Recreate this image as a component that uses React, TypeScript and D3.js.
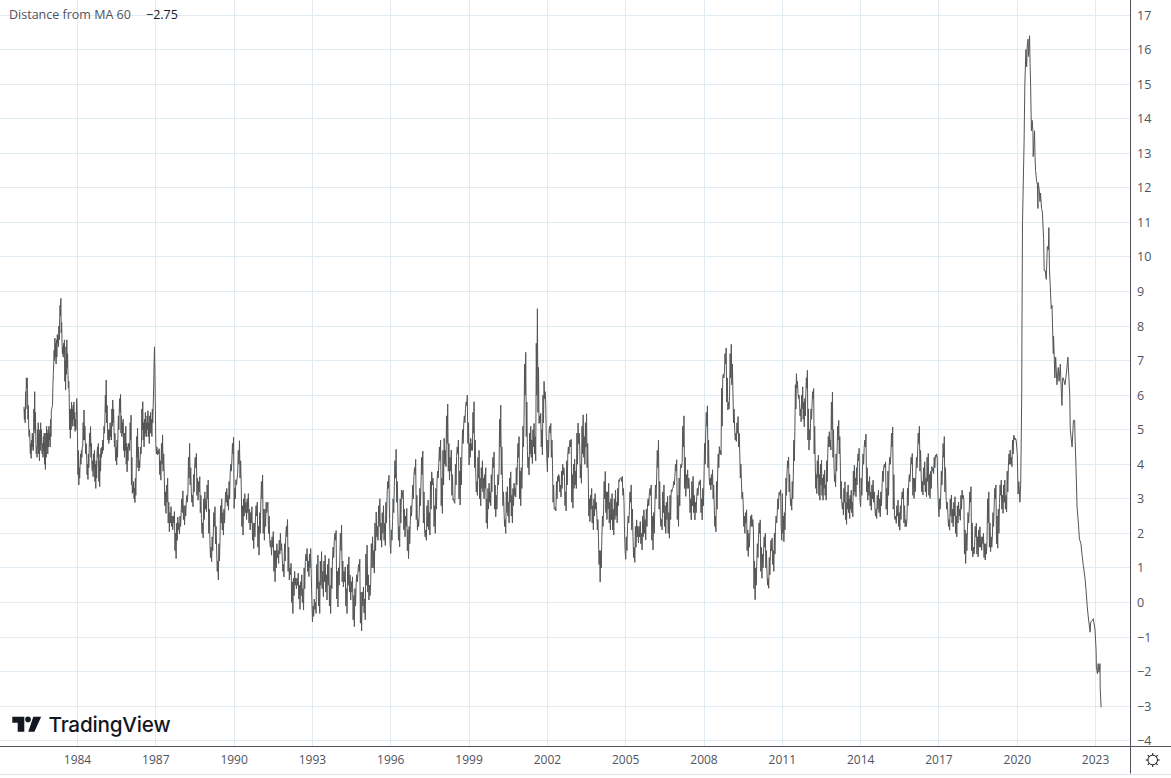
import * as d3 from 'd3'

const WIDTH = 1171
const HEIGHT = 778
const PLOT_RIGHT = 1130.5
const PLOT_BOTTOM = 746.5

const TICK_YEARS = [1984, 1987, 1990, 1993, 1996, 1999, 2002, 2005, 2008, 2011, 2014, 2017, 2020, 2023]
const TICK_VALUES = d3.range(-4, 18)
const LAST_VALUE = '−2.75'

// values, one list per stretch between the year ticks
const values1982 = [5.66,5.3,5.6,5.2,6.1,5.6,6.5,6.2,6.5,6.0,5.3,5.7,5.0,4.8,5.0,4.7,4.3,4.6,4.17,4.7,4.4,4.9,4.5,4.8,4.4,5.6,5.0,6.1,4.9,5.5,4.6,4.3,4.5,4.2,5.0,4.5,5.2,4.3,4.9,4.1,5.0,4.4,5.2,4.6,5.0,4.4,4.3,4.6,4.2,4.8,4.4,4.9,4.0,4.6,3.85,4.9,4.2,5.1,4.5,4.9,4.3,5.0,4.5,5.1,4.7,4.9,4.5,5.3,4.8,5.55,5.6,5.65,5.7,6.3,6.6,6.9,7.3,7.0,7.65,7.1,7.5,6.9,7.6,7.1,7.75,7.5,7.7,7.4,8.0,7.6,8.2,8.6,8.3,8.8,7.8,8.1,7.5,7.2,7.4,7.1,7.5,7.2,7.6,6.4,7.0,6.15,7.4,6.6,7.6,6.8,7.2,6.6,6.2,6.4,6.05,5.0,5.6,4.75,5.6,5.0,5.8,5.2,5.6,5.1,5.7,5.3,5.8,5.1,5.5,4.95,5.3,5.0,5.4,5.9,5.6]
const values1984 = [4.8,3.7,4.4,3.4,3.9,3.6,4.0,4.3,4.0,4.4,4.2,4.5,4.5,5.2,4.7,5.57,4.7,5.1,4.6,4.3,4.6,4.27,3.7,4.0,3.56,4.3,3.9,4.5,4.9,4.5,5.09,4.2,4.6,4.0,3.8,4.1,3.64,4.3,3.9,4.4,3.5,4.0,3.3,4.1,3.6,4.3,4.5,4.2,4.6,3.5,4.1,3.35,4.3,3.8,4.46,4.2,4.5,4.3,4.7,4.4,4.75,5.1,4.9,5.28,6.0,5.5,6.44,5.2,5.7,5.0,4.7,5.0,4.6,5.0,4.7,5.2,4.8,5.1,4.7,5.6,5.1,5.86,5.2,5.6,5.0,4.5,4.9,4.4,4.1,4.5,3.98,4.7,4.2,4.9,5.4,5.0,5.57,5.9,5.5,6.02,4.9,5.4,4.8,5.2,4.9,5.3,4.4,4.9,4.2,4.9,4.4,5.1,4.0,4.6,3.78,4.5,4.1,4.6,4.5,4.6,4.4,5.2,4.7,5.42,3.4,4.2,3.16,3.4,3.2,3.5,3.0,3.3,2.89,3.6,3.1,3.83,4.8,4.2,5.04,3.9,4.5,3.8,4.1,3.9,4.2,4.5,4.3,4.6,5.6,5.0,5.81,4.7,5.2,4.5,5.3,4.8,5.5,4.9,5.2,4.8,5.4,5.0,5.55,4.8,5.2,4.6,5.4,4.9,5.5,4.9,5.3,4.8,5.6,5.2,5.71,6.2,6.9,7.4,6.6,5.6]
const values1987 = [4.6,4.3,4.5,4.27,4.4,4.3,4.45,3.7,4.1,3.54,4.6,4.0,4.85,3.8,4.3,3.65,2.8,3.2,2.58,3.4,2.9,3.6,2.3,2.9,2.05,2.6,2.3,2.77,2.2,2.5,2.1,2.5,2.3,2.63,1.5,2.0,1.27,2.3,1.8,2.47,2.1,2.3,1.98,2.5,2.2,2.6,3.0,2.6,3.23,2.4,2.8,2.24,2.8,2.5,2.9,3.1,2.9,3.2,4.2,3.6,4.6,3.4,3.9,3.2,2.9,3.1,2.77,3.7,3.2,3.97,4.2,3.9,4.31,3.1,3.6,2.96,3.5,3.2,3.64,2.6,3.1,2.43,2.0,2.3,1.87,3.0,2.4,3.2,2.7,3.0,2.63,3.4,3.0,3.54,2.0,2.7,1.8,1.3,1.6,1.18,1.9,1.5,2.04,2.6,2.2,2.77,1.7,2.2,1.52,0.9,1.2,0.65,1.7,1.2,1.9,2.8,2.3,3.0,2.1,2.6,1.95,2.7,2.3,2.88,3.2,2.9,3.3,2.8,3.1,2.67,3.5,3.0,3.74,4.0,3.8,4.12,4.6,4.3,4.78]
const values1990 = [2.72,3.3,3.0,3.55,3.4,3.6,3.74,4.4,4.0,4.68,3.6,4.1,3.35,2.2,2.8,1.95,3.0,2.5,3.15,2.6,2.9,2.4,3.0,2.6,3.15,2.3,2.7,2.1,2.6,2.3,2.77,1.8,2.3,1.56,2.3,1.9,2.5,2.8,2.5,2.9,1.6,2.2,1.37,2.6,2.0,2.85,3.5,3.0,3.69,2.0,2.7,1.8,2.7,2.2,2.9,2.6,2.8,2.9,2.0,2.5,1.8,1.6,1.8,1.37,1.9,1.6,2.05,0.9,1.5,0.6,1.5,1.0,1.7,1.3,1.5,1.13,1.8,1.4,2.0,1.5,1.7,1.32,0.9,1.1,0.74,1.7,1.2,1.9,2.2,1.9,2.4,0.9,1.6,0.65,1.0,0.8,1.13,0.0,0.6,-0.32,0.7,0.2,0.9,0.5,0.7,0.4,0.7,0.5,0.85,0.1,0.5,-0.2,0.6,0.2,0.8,0.0,0.4,-0.22,1.0,0.4,1.18,1.4,1.2,1.56,0.9,1.2,0.75,1.4,1.0,1.56,0.8,0.1]
const values1993 = [-0.56,-0.1,-0.4,0.1,-0.2,0.0,-0.32,1.1,0.4,1.37,-0.1,0.6,-0.32,1.2,0.5,1.47,0.4,0.9,0.17,1.2,0.6,1.37,0.3,0.8,0.07,1.1,0.5,1.27,-0.1,0.5,-0.32,1.0,0.4,1.22,1.6,1.3,1.8,2.0,1.8,2.08,0.1,0.9,-0.13,1.0,0.5,1.22,2.0,1.5,2.24,0.6,1.2,0.45,0.9,0.6,1.03,-0.1,0.4,-0.32,1.1,0.5,1.32,0.3,0.8,0.07,0.6,0.3,0.74,-0.5,0.2,-0.7,0.4,-0.1,0.55,0.8,0.6,0.88,1.1,0.9,1.25,-0.6,0.3,-0.82,0.3,-0.1,0.45,-0.3,0.1,-0.5,1.4,0.5,1.66,0.3,0.8,0.07,0.5,0.2,0.6,1.7,1.0,1.9,1.0,1.5,0.85,2.3,1.5,2.62,1.9,2.2,1.8,2.8,2.2,3.0,1.8,2.3,1.6,2.6,2.0,2.8,1.8,2.3,1.65,2.9,2.3,3.15,3.5,3.3,3.68,2.4,1.7]
const values1996 = [1.42,2.1,1.8,2.34,3.0,2.6,3.35,4.1,3.6,4.43,2.9,3.5,2.58,1.8,2.2,1.61,3.0,2.3,3.25,3.0,3.2,3.25,2.1,2.7,1.9,2.5,2.2,2.72,1.5,2.1,1.27,2.2,1.7,2.38,2.8,2.5,2.92,3.4,3.0,3.64,3.9,3.7,4.14,2.4,3.1,2.09,2.4,2.2,2.58,3.3,2.8,3.49,4.2,3.7,4.38,2.3,3.2,2.09,1.9,2.1,1.8,2.8,2.2,2.96,2.1,2.6,1.95,3.5,2.7,3.78,3.4,3.6,3.35,2.2,2.8,2.0,3.3,2.7,3.54,3.8,3.6,4.03,4.5,4.1,4.7,2.8,3.6,2.58,4.4,3.4,4.75,4.0,4.4,3.93,5.4,4.6,5.74,3.8,4.6,3.54,4.2,3.8,4.41,3.1,3.7,2.96,3.0,2.9,2.87,4.0,3.4,4.22,4.5,4.3,4.7,3.0,3.8,2.82,4.2,3.4,4.41,5.0,4.6,5.18,5.4,5.2,5.62,5.8,5.7,6.0,4.6,5.2]
const values1999 = [3.98,4.6,4.2,4.75,4.4,4.6,4.4,5.5,4.9,5.81,3.9,4.7,3.75,3.2,3.5,3.1,4.2,3.6,4.4,3.0,3.6,2.8,3.9,3.3,4.1,3.2,3.6,3.0,3.7,3.3,3.9,2.3,3.0,2.14,3.3,2.7,3.45,2.9,3.2,2.8,3.7,3.2,3.9,4.2,3.9,4.35,2.7,3.4,2.48,3.1,2.7,3.25,3.7,3.4,3.85,5.3,4.5,5.71,3.7,4.5,3.55,2.8,3.2,2.6,2.2,2.4,2.0,3.2,2.6,3.35,2.5,2.9,2.3,3.6,2.9,3.78,2.5,3.1,2.3,3.3,2.8,3.45,3.1,3.3,3.05,3.9,3.4,4.02,4.6,4.2,4.8,3.0,3.8,2.8,3.9,3.3,4.02,5.1,4.5,5.38,6.9,6.0,7.24,4.8,5.8,4.4,3.9,4.2,3.69,4.9,4.3,5.1,4.2,4.7,4.02,5.0,4.5,5.18,4.3,4.8,4.1,7.5,6.0,8.5,5.5,6.8,5.18,5.4,5.2,5.47,4.5,5.0,4.27,6.0,5.2,6.4,5.9,6.1,5.76,4.8,4.2]
const values2002 = [3.78,4.7,4.2,4.99,5.1,4.9,5.18,4.2,4.7,4.0,2.9,3.4,2.7,2.7,2.75,2.65,3.5,3.0,3.65,3.5,3.7,3.64,3.2,3.4,3.05,3.8,3.3,4.0,3.7,3.9,3.65,2.8,3.2,2.65,4.1,3.4,4.3,4.5,4.3,4.6,4.7,4.5,4.72,2.9,3.7,2.73,4.0,3.3,4.15,3.4,3.8,3.3,4.9,4.0,5.19,4.6,4.9,4.5,3.6,4.0,3.45,5.1,4.3,5.43,4.2,4.8,4.0,5.2,4.5,5.46,3.9,4.6,3.7,2.5,3.0,2.34,3.1,2.7,3.3,2.3,2.8,2.1,3.0,2.5,3.15,2.7,2.9,2.6,2.1,2.4,1.9,1.1,1.5,0.59,1.5,1.0,1.9,2.5,2.2,2.67,3.5,3.0,3.79,2.6,3.2,2.4,3.2,2.7,3.45,2.3,2.9,2.1,3.0,2.4,3.15,2.1,2.7,1.95,3.0,2.4,3.25,2.5,2.9,2.3,3.3,2.8,3.55,3.5,3.6,3.6,3.6,3.5,3.65,3.1,3.3,2.9,2.0,1.5]
const values2005 = [1.25,1.9,1.5,2.2,2.5,2.3,2.63,3.2,2.9,3.4,2.1,2.7,1.91,1.3,1.6,1.16,2.2,1.6,2.39,1.9,2.2,1.72,2.2,1.9,2.34,1.7,2.0,1.52,2.5,1.9,2.68,2.0,2.4,1.81,2.7,2.2,2.87,3.0,2.8,3.16,3.3,3.1,3.4,1.8,2.5,1.52,2.6,2.0,2.78,3.4,3.0,3.6,4.4,3.9,4.7,2.7,3.5,2.49,2.2,2.4,2.1,3.2,2.6,3.4,2.2,2.8,2.0,2.9,2.4,3.07,2.0,2.6,1.86,3.1,2.4,3.26,3.2,3.3,3.31,3.5,3.4,3.65,4.0,3.8,4.13,2.4,3.1,2.2,3.6,2.8,3.84,4.0,3.9,4.08,5.1,4.5,5.4,3.3,4.2,3.07,3.7,3.3,3.84,3.3,3.6,3.26,2.6,3.0,2.39,3.5,2.8,3.65,2.6,3.1,2.39,2.9,2.6,3.07,3.3,3.1,3.36,3.5,3.4,3.55,2.6,3.0,2.39,3.3,2.8]
const values2008 = [3.65,4.6,4.0,4.9,5.5,5.1,5.69,3.9,4.7,3.65,3.4,3.6,3.26,3.7,3.4,3.84,3.0,3.4,2.78,2.2,2.5,2.05,3.5,2.7,3.74,4.3,3.9,4.51,4.3,4.4,4.27,6.2,5.1,6.54,6.6,6.5,6.68,7.2,6.9,7.36,5.8,6.5,5.57,5.8,5.6,5.96,7.2,6.5,7.47,6.3,6.9,6.06,5.2,5.6,5.0,4.7,4.9,4.66,5.2,4.9,5.38,4.5,4.9,4.32,3.6,4.0,3.45,3.0,3.2,2.87,2.2,2.5,2.0,2.6,2.3,2.68,1.5,2.1,1.33,2.0,1.6,2.1,2.5,2.2,2.54,2.2,2.4,2.1,0.4,1.2,0.08,1.0,0.5,1.14,1.7,1.3,1.86,2.3,2.0,2.39,0.9,1.6,0.7,1.4,1.0,1.52,1.9,1.6,2.0,1.0,1.5,0.85,0.5,0.7,0.41,1.3,0.8,1.43,1.8,1.5,1.86,1.1,1.5,0.9,2.0,1.4,2.2,2.5,2.3,2.58,3.0,2.7,3.16,3.2,3.1,3.26,2.2,1.8]
const values2011 = [3.15,2.0,2.5,1.76,2.6,2.1,2.77,3.6,3.1,3.78,4.1,3.9,4.21,3.2,3.7,3.06,2.8,3.0,2.67,3.5,3.0,3.64,4.7,4.1,4.94,6.3,5.6,6.62,6.2,6.4,6.05,5.9,6.0,5.76,5.4,5.6,5.23,6.0,5.6,6.24,5.3,5.8,5.08,5.9,5.4,6.05,6.5,6.2,6.72,4.7,5.6,4.41,5.0,4.7,5.18,5.6,5.3,5.76,6.1,5.9,6.19,4.3,5.1,4.02,3.3,3.7,3.15,4.1,3.6,4.26,3.1,3.7,2.96,4.0,3.4,4.12,3.1,3.6,2.96,3.7,3.3,3.83,3.1,3.4,2.96,4.1,3.5,4.31,4.8,4.5,4.94,4.5,4.7,4.41,5.8,5.0,6.09,4.2,5.0,3.92,3.5,3.7,3.35,4.3,3.8,4.5,5.1,4.7,5.27,4.3,4.8,4.12,3.0,3.5,2.86,2.7,2.9,2.53,3.3,2.9,3.49,2.4,2.9,2.26,3.2,2.7,3.4,2.6,3.0,2.43,3.1,2.7,3.25,2.6,2.9,2.48,3.8,3.1,3.97,3.2,3.6,3.06,3.9,3.4,4.07,4.3,4.1,4.46,3.3,2.9]
const values2014 = [2.77,3.6,3.1,3.83,4.3,4.0,4.5,4.7,4.5,4.87,3.2,3.9,2.96,3.5,3.1,3.64,2.8,3.2,2.67,3.4,3.0,3.54,2.9,3.2,2.77,2.5,2.7,2.43,3.1,2.7,3.25,2.6,3.0,2.48,3.2,2.8,3.3,3.8,3.5,3.93,4.0,3.9,4.07,2.7,3.3,2.53,3.8,3.1,3.93,4.2,4.0,4.31,4.9,4.5,5.08,2.7,3.7,2.48,2.4,2.5,2.29,2.8,2.5,2.96,2.2,2.6,2.09,2.8,2.4,2.96,3.2,3.0,3.3,2.3,2.8,2.19,2.4,2.2,2.38,3.3,2.8,3.44,3.7,3.5,3.83,4.2,4.0,4.31,3.1,3.6,3.01,3.6,3.2,3.68,4.2,3.9,4.36,4.9,4.6,5.1,3.8,4.4,3.68,3.2,3.5,3.11,3.9,3.4,4.07,3.2,3.6,3.06,4.2,3.5,4.31,3.1,3.7,3.01,3.8,3.3,3.93,3.8,3.9,3.73,4.2,3.9,4.26,4.2,4.3,4.21,3.3,2.8]
const values2017 = [2.48,3.0,2.7,3.11,3.8,3.4,3.93,4.6,4.2,4.8,3.2,3.9,3.06,2.7,2.9,2.58,2.2,2.4,2.09,3.0,2.5,3.11,2.3,2.7,2.19,2.9,2.5,3.06,2.0,2.5,1.9,2.8,2.3,2.91,2.5,2.7,2.38,3.1,2.7,3.25,3.0,3.1,2.96,1.4,2.1,1.13,2.0,1.5,2.09,2.6,2.3,2.67,3.2,2.9,3.35,1.5,2.3,1.32,1.6,1.4,1.61,2.2,1.9,2.29,1.4,1.9,1.32,2.1,1.6,2.19,1.6,1.9,1.51,1.9,1.7,2.0,1.3,1.7,1.23,1.7,1.4,1.8,3.0,2.3,3.2,1.6,2.3,1.47,1.9,1.6,1.9,2.6,2.2,2.77,3.3,3.0,3.4,1.7,2.5,1.57,2.7,2.0,2.86,3.4,3.1,3.54,2.7,3.1,2.58,3.4,2.9,3.54,2.7,3.1,2.62,3.8,3.2,3.93,4.3,4.0,4.41,4.0,4.2,3.93,4.7,4.3,4.84,4.8,4.7,4.75,4.7,4.5]

const BLOCKS: [number, number, number[]][] = [
  [1981.95, 1984, values1982],
  [1984, 1987, values1984],
  [1987, 1990, values1987],
  [1990, 1993, values1990],
  [1993, 1996, values1993],
  [1996, 1999, values1996],
  [1999, 2002, values1999],
  [2002, 2005, values2002],
  [2005, 2008, values2005],
  [2008, 2011, values2008],
  [2011, 2014, values2011],
  [2014, 2017, values2014],
  [2017, 2020, values2017],
]

// the last stretch moves too fast for even spacing, so it keeps its own dates
const lateYears = [2020.0, 2020.03, 2020.06, 2020.1, 2020.13, 2020.15, 2020.17, 2020.18, 2020.2, 2020.26, 2020.29, 2020.33, 2020.36, 2020.38, 2020.41, 2020.43, 2020.47, 2020.49, 2020.51, 2020.54, 2020.57, 2020.6, 2020.61, 2020.64, 2020.66, 2020.68, 2020.7, 2020.74, 2020.77, 2020.79, 2020.8, 2020.84, 2020.87, 2020.89, 2020.93, 2020.96, 2021.01, 2021.03, 2021.07, 2021.11, 2021.15, 2021.19, 2021.21, 2021.23, 2021.26, 2021.3, 2021.33, 2021.35, 2021.38, 2021.39, 2021.44, 2021.47, 2021.52, 2021.57, 2021.6, 2021.65, 2021.67, 2021.71, 2021.74, 2021.76, 2021.83, 2021.89, 2021.94, 2021.95, 2022.01, 2022.03, 2022.1, 2022.15, 2022.2, 2022.21, 2022.25, 2022.29, 2022.34, 2022.38, 2022.44, 2022.47, 2022.53, 2022.59, 2022.63, 2022.68, 2022.72, 2022.79, 2022.81, 2022.87, 2022.91, 2022.98, 2023.02, 2023.03, 2023.07, 2023.1, 2023.13, 2023.17, 2023.175, 2023.21]
const lateValues = [4.3, 3.14, 3.5, 2.9, 3.4, 4.6, 6.0, 8.0, 11.0, 13.3, 15.0, 16.0, 15.5, 16.1, 16.3, 15.8, 16.4, 15.6, 15.0, 13.65, 13.95, 13.6, 12.9, 13.3, 13.65, 12.9, 12.5, 12.2, 12.1, 11.4, 12.15, 11.95, 11.6, 11.85, 11.4, 11.3, 10.5, 9.6, 9.6, 9.35, 10.3, 10.2, 10.85, 9.7, 9.2, 8.5, 8.6, 8.0, 7.2, 7.7, 6.5, 7.1, 6.3, 6.8, 6.4, 6.9, 6.4, 5.7, 6.5, 6.5, 6.3, 6.7, 7.1, 6.9, 6.0, 5.0, 4.5, 5.27, 5.27, 4.85, 3.9, 2.76, 2.3, 1.84, 1.7, 1.45, 1.07, 0.73, 0.4, -0.13, -0.42, -0.86, -0.57, -0.52, -0.47, -0.8, -1.4, -1.87, -2.06, -1.77, -2.02, -1.77, -2.45, -3.03]

type Point = { year: number; value: number }

const points: Point[] = [
  ...BLOCKS.flatMap(([start, end, values]) =>
    values.map((value, i) => ({ year: start + ((end - start) * i) / values.length, value }))
  ),
  ...lateYears.map((year, i) => ({ year, value: lateValues[i] })),
]

const x = d3.scaleLinear().domain([1984, 2023]).range([77.5, 1095.6])
const y = d3.scaleLinear().domain([-4, 17]).range([740.7, 15])
const line = d3
  .line<Point>()
  .x((d) => x(d.year))
  .y((d) => y(d.value))

const snap = (v: number) => Math.round(v - 0.5) + 0.5
const GRID = '#e1ecf2'
const AXIS = '#50535e'
const FONT = '"Open Sans", "DejaVu Sans", sans-serif'

export default function App() {
  return (
    <svg
      width={WIDTH}
      height={HEIGHT}
      viewBox={`0 0 ${WIDTH} ${HEIGHT}`}
      style={{ position: 'absolute', left: 0, top: 0, background: '#fff' }}
      fontFamily={FONT}
    >
      {TICK_VALUES.map((tick) => (
        <line key={tick} x1={0} x2={PLOT_RIGHT} y1={snap(y(tick))} y2={snap(y(tick))} stroke={GRID} />
      ))}
      {TICK_YEARS.map((tick) => (
        <line key={tick} x1={snap(x(tick))} x2={snap(x(tick))} y1={0} y2={PLOT_BOTTOM} stroke={GRID} />
      ))}

      <path d={line(points) ?? undefined} fill="none" stroke="#555" strokeWidth={1} strokeLinejoin="round" />

      <line x1={0} x2={WIDTH} y1={PLOT_BOTTOM} y2={PLOT_BOTTOM} stroke={AXIS} />
      <line x1={PLOT_RIGHT} x2={PLOT_RIGHT} y1={0} y2={773.5} stroke={AXIS} />
      <line x1={0} x2={WIDTH} y1={774.5} y2={774.5} stroke="#e0e3eb" />

      {TICK_VALUES.map((tick) => (
        <text key={tick} x={1137} y={y(tick) + 4.5} fontSize={12.5} fill={AXIS}>
          {d3.format('d')(tick).replace('-', '−')}
        </text>
      ))}
      {TICK_YEARS.map((tick) => (
        <text key={tick} x={x(tick)} y={764} fontSize={12} fontWeight={500} fill={AXIS} textAnchor="middle">
          {tick}
        </text>
      ))}

      <text x={9} y={19} fontSize={12.5} fill={AXIS}>Distance from MA 60</text>
      <text x={146} y={19} fontSize={12.5} fill="#131722">{LAST_VALUE}</text>

      <g fill="#131722">
        <path d="M12.3 716.7H24.3V731.7H17.7V722.7H12.3Z" />
        <circle cx={28} cy={719.4} r={2.8} />
        <path d="M33.3 716.7H41.2L34.4 731.7H28.3Z" />
      </g>
      <text x={48.5} y={732} fontSize={20.7} fontWeight={500} fill="#131722" fontFamily="Inter, sans-serif" letterSpacing={-0.2}>
        TradingView
      </text>

      <g transform="translate(1152.7 760)" fill="none" stroke="#131722">
        <circle r={4.8} />
        {d3.range(8).map((i) => (
          <line key={i} y1={-4.8} y2={-7} transform={`rotate(${i * 45})`} />
        ))}
      </g>
    </svg>
  )
}
